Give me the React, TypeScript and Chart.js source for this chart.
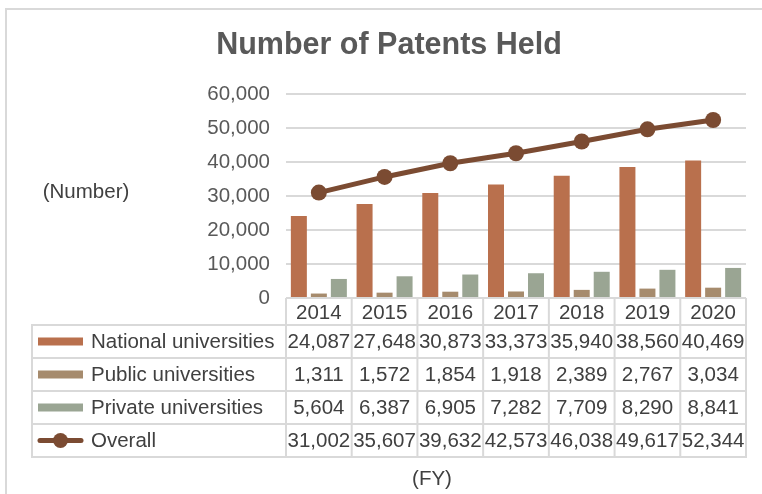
import React, { useEffect, useRef } from "react";
import { Chart, registerables } from "chart.js";

Chart.register(...registerables);

const categories = ["2014", "2015", "2016", "2017", "2018", "2019", "2020"];
const nationalValues = [24087, 27648, 30873, 33373, 35940, 38560, 40469];
const publicValues = [1311, 1572, 1854, 1918, 2389, 2767, 3034];
const privateValues = [5604, 6387, 6905, 7282, 7709, 8290, 8841];
const overallValues = [31002, 35607, 39632, 42573, 46038, 49617, 52344];
const seriesNames = [
  "National universities",
  "Public universities",
  "Private universities",
  "Overall",
];
const titleText = "Number of Patents Held";
const yAxisLabel = "(Number)";
const xAxisLabel = "(FY)";

const COLORS = ["#B9704D", "#A68B6D", "#9AA593", "#7B4B32"];
const FONT = '"Liberation Sans", Arial, sans-serif';
const TEXT = "#404040";
const GRID = "#d9d9d9";

const fmt = (v: number) => v.toLocaleString("en-US");

const tablePlugin = {
  id: "dataTable",
  afterDraw(chart: any) {
    const ctx = chart.ctx;
    const x = chart.scales.x;
    const area = chart.chartArea;
    const n = categories.length;
    const w = (area.right - area.left) / n;
    const bounds: number[] = [];
    for (let i = 0; i <= n; i++) bounds.push(area.left + i * w);
    const tableLeft = 32;
    const headTop = area.bottom;
    const rowTops = [325, 358, 391, 424, 457];

    ctx.save();
    // outer chart border
    ctx.strokeStyle = GRID;
    ctx.lineWidth = 2;
    ctx.strokeRect(6, 9, 800, 600);

    // title
    ctx.fillStyle = "#595959";
    ctx.font = `bold 30.5px ${FONT}`;
    ctx.textAlign = "center";
    ctx.textBaseline = "alphabetic";
    ctx.fillText(titleText, 389, 54);

    // axis labels
    ctx.fillStyle = TEXT;
    ctx.font = `20.5px ${FONT}`;
    ctx.textBaseline = "middle";
    ctx.fillText(yAxisLabel, 86, 192);
    ctx.fillText(xAxisLabel, 432, 479);

    // table lines
    ctx.strokeStyle = GRID;
    ctx.lineWidth = 2;
    ctx.beginPath();
    for (const b of bounds) {
      ctx.moveTo(b, headTop);
      ctx.lineTo(b, rowTops[rowTops.length - 1]);
    }
    ctx.moveTo(tableLeft, rowTops[0]);
    ctx.lineTo(tableLeft, rowTops[rowTops.length - 1]);
    for (const t of rowTops) {
      ctx.moveTo(tableLeft - 1, t);
      ctx.lineTo(area.right + 1, t);
    }
    ctx.stroke();

    // years
    ctx.fillStyle = TEXT;
    ctx.textAlign = "center";
    categories.forEach((c, i) => {
      ctx.fillText(c, x.getPixelForValue(i), 313);
    });

    const rows = [nationalValues, publicValues, privateValues, overallValues];
    rows.forEach((vals, r) => {
      const cy = (rowTops[r] + rowTops[r + 1]) / 2;
      // legend key
      if (r < 3) {
        ctx.fillStyle = COLORS[r];
        ctx.fillRect(38, cy - 4, 45, 8);
      } else {
        ctx.strokeStyle = COLORS[r];
        ctx.lineWidth = 5;
        ctx.lineCap = "round";
        ctx.beginPath();
        ctx.moveTo(40, cy);
        ctx.lineTo(81, cy);
        ctx.stroke();
        ctx.fillStyle = COLORS[r];
        ctx.beginPath();
        ctx.arc(60.5, cy, 7.5, 0, Math.PI * 2);
        ctx.fill();
      }
      ctx.fillStyle = TEXT;
      ctx.textAlign = "left";
      ctx.fillText(seriesNames[r], 91, cy + 1);
      ctx.textAlign = "center";
      vals.forEach((v, i) => {
        ctx.fillText(fmt(v), x.getPixelForValue(i), cy + 1);
      });
    });
    ctx.restore();
  },
};

export default function App() {
  const ref = useRef<HTMLCanvasElement>(null);
  useEffect(() => {
    document.body.style.margin = "0";
    const chart = new Chart(ref.current!, {
      type: "bar",
      data: {
        labels: categories,
        datasets: [
          {
            type: "bar",
            label: seriesNames[0],
            data: nationalValues,
            backgroundColor: COLORS[0],
            order: 1,
          },
          {
            type: "bar",
            label: seriesNames[1],
            data: publicValues,
            backgroundColor: COLORS[1],
            order: 1,
          },
          {
            type: "bar",
            label: seriesNames[2],
            data: privateValues,
            backgroundColor: COLORS[2],
            order: 1,
          },
          {
            type: "line",
            label: seriesNames[3],
            data: overallValues,
            borderColor: COLORS[3],
            backgroundColor: COLORS[3],
            borderWidth: 5,
            pointRadius: 8,
            pointBorderWidth: 0,
            pointBackgroundColor: COLORS[3],
            order: 0,
          } as any,
        ],
      },
      options: {
        responsive: false,
        animation: false,
        layout: { padding: { top: 94, right: 16, bottom: 196, left: 0 } },
        datasets: {
          bar: { categoryPercentage: 0.913, barPercentage: 0.8 },
        } as any,
        plugins: {
          legend: { display: false },
          title: { display: false },
          tooltip: { enabled: false },
        },
        scales: {
          x: { display: false },
          y: {
            min: 0,
            max: 60000,
            afterFit: (s: any) => {
              s.width = 286;
            },
            border: { display: false },
            grid: { color: GRID, lineWidth: 2, drawTicks: false },
            ticks: {
              stepSize: 10000,
              padding: 16,
              color: "#595959",
              font: { family: FONT, size: 20.5 },
              callback: (v: any) => fmt(Number(v)),
            },
          },
        },
      },
      plugins: [tablePlugin],
    });
    return () => chart.destroy();
  }, []);
  return (
    <div style={{ width: 762, height: 494, background: "#fff" }}>
      <canvas ref={ref} width={762} height={494} />
    </div>
  );
}
